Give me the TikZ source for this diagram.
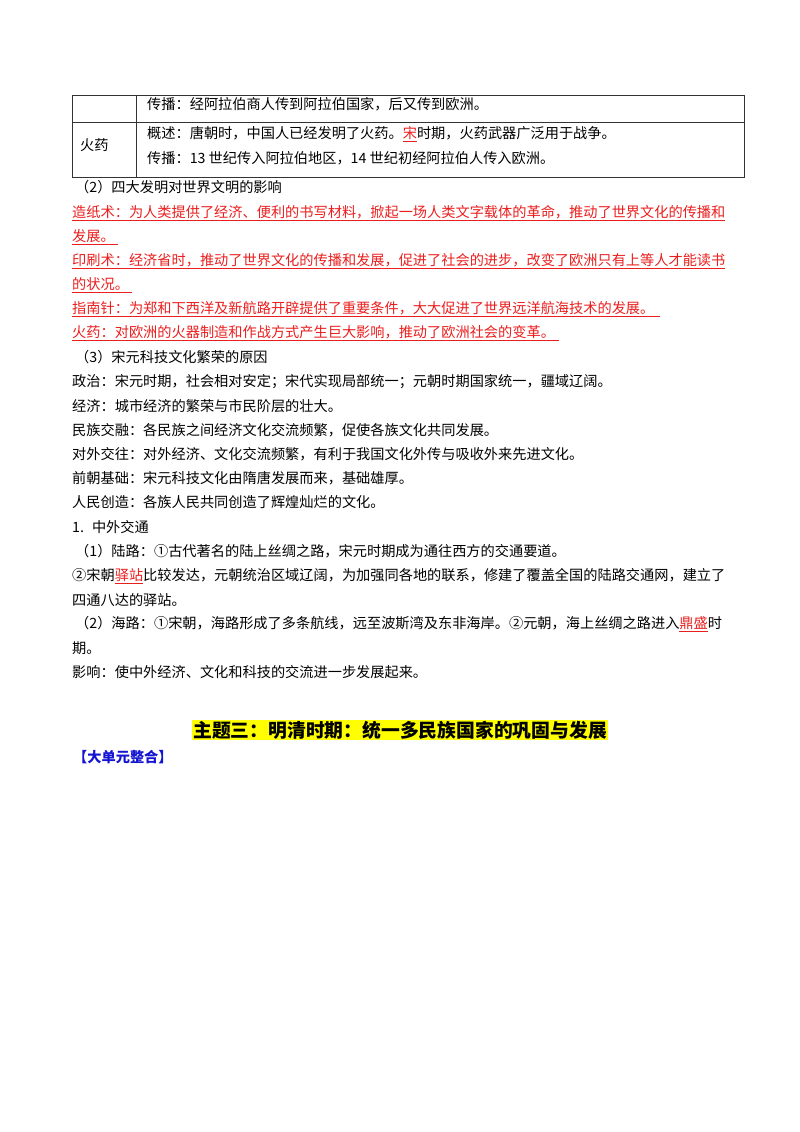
\documentclass[tikz,border=0pt]{standalone}
\usepackage{fontspec}
\setmainfont{Noto Sans CJK SC}
\definecolor{ured}{RGB}{235,30,30}
\definecolor{hyel}{RGB}{255,255,0}
\definecolor{tblue}{RGB}{20,20,210}
\begin{document}
\begin{tikzpicture}[x=1pt,y=-1pt,
  txt/.style={anchor=west,inner sep=0pt,font=\fontsize{14.2}{14.5}\selectfont},
  rl/.style={txt,text=ured},
  cell/.style={draw=black!80,line width=0.8pt}]
\useasboundingbox (0,0) rectangle (800,1132);
\fill[white] (0,0) rectangle (800,1132);
% table
\draw[cell] (72,95) rectangle (744,177);
\draw[cell] (72,122) -- (744,122);
\draw[cell] (136,95) -- (136,177);
\node[txt] (r1) at (147,104) {传播：经阿拉伯商人传到阿拉伯国家，后又传到欧洲。};
\node[txt] (hy) at (80,145) {火药};
\node[txt] (r2) at (147,134) {概述：唐朝时，中国人已经发明了火药。\textcolor{ured}{\underline{宋}}时期，火药武器广泛用于战争。};
\node[txt] (r3) at (147,158) {传播：13 世纪传入阿拉伯地区，14 世纪初经阿拉伯人传入欧洲。};
\node[txt] (h2) at (75,187) {（2）四大发明对世界文明的影响};
\node[rl] (a1) at (72,213) {\underline{造纸术：为人类提供了经济、便利的书写材料，掀起一场人类文字载体的革命，推动了世界文化的传播和}};
\node[rl] (a2) at (72,237) {\underline{发展。\hspace{3pt}}};
\node[rl] (a3) at (72,261) {\underline{印刷术：经济省时，推动了世界文化的传播和发展，促进了社会的进步，改变了欧洲只有上等人才能读书}};
\node[rl] (a4) at (72,285) {\underline{的状况。\hspace{3pt}}};
\node[rl] (a5) at (72,309) {\underline{指南针：为郑和下西洋及新航路开辟提供了重要条件，大大促进了世界远洋航海技术的发展。\hspace{6pt}}};
\node[rl] (a6) at (72,333) {\underline{火药：对欧洲的火器制造和作战方式产生巨大影响，推动了欧洲社会的变革。\hspace{4pt}}};
\node[txt] (h3) at (75,357) {（3）宋元科技文化繁荣的原因};
\node[txt] (b1) at (72,382) {政治：宋元时期，社会相对安定；宋代实现局部统一；元朝时期国家统一，疆域辽阔。};
\node[txt] (b2) at (72,406) {经济：城市经济的繁荣与市民阶层的壮大。};
\node[txt] (b3) at (72,430) {民族交融：各民族之间经济文化交流频繁，促使各族文化共同发展。};
\node[txt] (b4) at (72,454) {对外交往：对外经济、文化交流频繁，有利于我国文化外传与吸收外来先进文化。};
\node[txt] (b5) at (72,478) {前朝基础：宋元科技文化由隋唐发展而来，基础雄厚。};
\node[txt] (b6) at (72,502) {人民创造：各族人民共同创造了辉煌灿烂的文化。};
\node[txt] (c0) at (72,527) {1.\hspace{8pt}中外交通};
\node[txt] (c1) at (75,551) {（1）陆路：①古代著名的陆上丝绸之路，宋元时期成为通往西方的交通要道。};
\node[txt] (c2) at (72,576) {②宋朝\textcolor{ured}{\underline{驿站}}比较发达，元朝统治区域辽阔，为加强同各地的联系，修建了覆盖全国的陆路交通网，建立了};
\node[txt] (c3) at (72,600) {四通八达的驿站。};
\node[txt] (c4) at (75,624) {（2）海路：①宋朝，海路形成了多条航线，远至波斯湾及东非海岸。②元朝，海上丝绸之路进入\textcolor{ured}{\underline{鼎盛}}时};
\node[txt] (c5) at (72,648) {期。};
\node[txt] (c6) at (72,672) {影响：使中外经济、文化和科技的交流进一步发展起来。};
% title
\node[anchor=center,inner sep=1pt,fill=hyel,font=\fontsize{18.8}{19}\selectfont\bfseries] (tt) at (400,730) {主题三：明清时期：统一多民族国家的巩固与发展};
\node[txt,text=tblue,font=\fontsize{14.2}{14.5}\selectfont\bfseries] (dy) at (73,757) {【大单元整合】};
\end{tikzpicture}
\end{document}
